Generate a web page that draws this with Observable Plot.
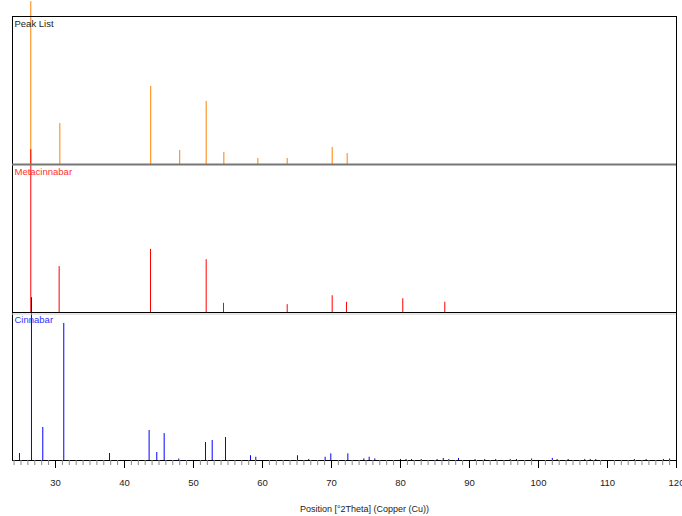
<!DOCTYPE html>
<html>
<head>
<meta charset="utf-8">
<script src="https://cdn.jsdelivr.net/npm/d3@7"></script>
<script src="https://cdn.jsdelivr.net/npm/@observablehq/plot@0.6"></script>
<style>
  html, body { margin: 0; padding: 0; background: #fff; }
  svg { display: block; }
</style>
</head>
<body>
<div id="chart"></div>
<script>
// Panels (top to bottom)
const panels = ["Peak List", "Metacinnabar", "Cinnabar"];
const panelColors = ["#ff8000", "#ff0000", "#0000ff"];
const labelColors = ["#222222", "#ff3030", "#3030ff"];

// Peak List (position °2θ, relative intensity %)
const peakListPos = [26.42, 30.63, 43.80, 48.00, 51.84, 54.40, 59.33, 63.58, 70.10, 72.27];
const peakListInt = [110, 27.7, 52.7, 9.5, 42.6, 8.1, 4.1, 4.1, 11.5, 7.4];

// Metacinnabar reference pattern
const metaPos = [26.42, 30.53, 43.77, 51.84, 54.35, 63.58, 70.10, 72.17, 80.33, 86.42];
const metaInt = [110, 31.0, 42.7, 35.7, 6.2, 5.3, 11.3, 6.9, 9.3, 6.9];

// Cinnabar reference pattern
const cinnPos = [24.78, 26.52, 28.16, 31.20, 37.83, 43.57, 44.68, 45.75, 47.87, 51.74, 52.71, 54.64,
  58.26, 59.03, 65.07, 66.70, 69.08, 69.90, 72.37, 74.69, 75.46, 76.28, 80.00, 80.80, 81.60, 83.00,
  85.30, 86.20, 87.00, 88.40, 90.80, 92.20, 93.80, 95.90, 96.80, 99.00, 102.00, 102.70, 104.30,
  106.70, 107.50, 108.30, 113.90, 115.60, 118.10, 119.00];
const cinnInt = [4.7, 110, 22.3, 92.6, 4.7, 20.3, 5.4, 18.2, 1.0, 12.2, 13.5, 15.5,
  3.2, 2.2, 3.2, 0.7, 2.2, 4.5, 4.5, 1.1, 2.2, 1.1, 0.7, 0.7, 0.7, 0.7,
  0.7, 1.4, 0.7, 1.4, 0.7, 0.7, 0.7, 0.7, 0.7, 1.0, 1.4, 0.7, 0.7,
  0.7, 0.7, 0.7, 0.7, 0.7, 0.7, 1.0];

// Axis ticks
const majorTicks = [30, 40, 50, 60, 70, 80, 90, 100, 110, 120];
const minorTicks = d3.range(24, 121);
const xDomain = [23.77, 120];
const xTitle = "Position [°2Theta] (Copper (Cu))";

const rows = [];
[[peakListPos, peakListInt], [metaPos, metaInt], [cinnPos, cinnInt]].forEach(([pos, inten], i) => {
  pos.forEach((p, j) => rows.push({set: panels[i], pos: p, int: inten[j]}));
});

const font = "'Liberation Sans', Arial, Helvetica, sans-serif";

const chart = Plot.plot({
  width: 682,
  height: 516,
  marginLeft: 12,
  marginRight: 6,
  marginTop: 15,
  marginBottom: 55,
  style: {fontFamily: font, fontSize: "10px", background: "#fff", color: "#222"},
  x: {domain: xDomain, label: null},
  y: {domain: [0, 100], axis: null},
  fy: {domain: panels, padding: 0, axis: null, label: null},
  color: {domain: panels, range: panelColors},
  marks: [
    Plot.ruleX(rows, {x: "pos", y1: 0, y2: "int", fy: "set", stroke: "set", strokeWidth: 1}),
    Plot.frame({stroke: "#000", strokeWidth: 1}),
    Plot.ruleY([100], {fy: [panels[1]], stroke: "#777", strokeWidth: 2}),
    Plot.ruleY([0], {fy: [panels[1]], stroke: "#ccc", strokeWidth: 1, dy: 1.5}),
    Plot.text(panels.map((p, i) => ({set: p, label: p, c: labelColors[i]})), {
      fy: "set", text: "label", fill: "c", frameAnchor: "top-left", dx: 2, dy: 3.5,
      fontSize: 9.5, textAnchor: "start"
    }),
    Plot.axisX({ticks: minorTicks, tickSize: 5, stroke: "#888", text: null, anchor: "bottom", label: null}),
    Plot.axisX({ticks: majorTicks, tickSize: 8, stroke: "#000", tickPadding: 11, anchor: "bottom",
      fontSize: 9.5, fill: "#222", label: null}),
    Plot.text([xTitle], {fy: [panels[2]], text: d => d, frameAnchor: "bottom", dx: 20, dy: 51,
      fontSize: 9, fill: "#222"})
  ]
});

document.getElementById("chart").appendChild(chart);
</script>
</body>
</html>
